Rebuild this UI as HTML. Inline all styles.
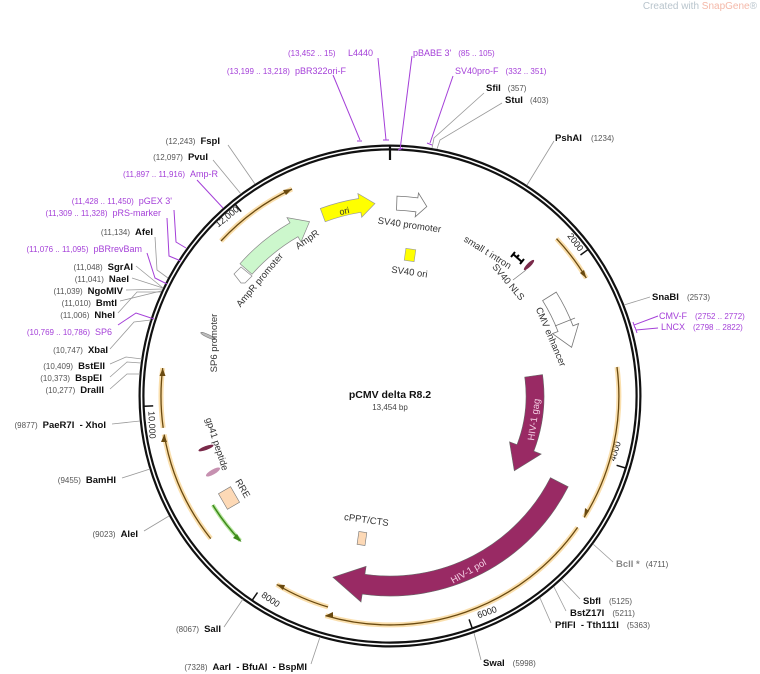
<!DOCTYPE html>
<html><head><meta charset="utf-8"><style>
html,body{margin:0;padding:0;background:#fff;}
svg{display:block;font-family:"Liberation Sans","DejaVu Sans",sans-serif;}
.n{font-size:9.5px;font-weight:bold;fill:#111;}
.c{font-size:8px;fill:#555;}
.p{font-size:9px;fill:#a43fd8;}
.pc{font-size:8px;fill:#a43fd8;}
.f{font-size:9.5px;fill:#333;}
.sl{stroke:#999;stroke-width:.8;fill:none;}
.pl{stroke:#a43fd8;stroke-width:1;fill:none;}
.or{fill:none;stroke:#f6c46a;stroke-width:5;stroke-opacity:.55;}
.ob{fill:none;stroke:#6a4a10;stroke-width:1.3;}
</style></head><body>
<svg width="760" height="674" viewBox="0 0 760 674">
<text x="757" y="9" text-anchor="end" style="font-size:10px;fill:#b8c4cc">Created with <tspan fill="#f4b8a8">SnapGene</tspan>®</text>

<!-- backbone -->
<circle cx="390" cy="396" r="248.5" fill="none" stroke="#111" stroke-width="6"/>
<circle cx="390" cy="396" r="248.5" fill="none" stroke="#fff" stroke-width="1.6"/>
<line x1="390" y1="145" x2="390" y2="160" stroke="#111" stroke-width="2.2"/>

<!-- ticks -->
<g stroke="#111" stroke-width="1.5">
<line x1="587.8" y1="249.7" x2="580.5" y2="255"/>
<line x1="625.2" y1="467.9" x2="616.6" y2="465.3"/>
<line x1="472.1" y1="627.9" x2="469.1" y2="619.4"/>
<line x1="252.4" y1="599.9" x2="257.5" y2="592.5"/>
<line x1="144.2" y1="406.3" x2="153.2" y2="405.9"/>
<line x1="235.5" y1="204.6" x2="241.2" y2="211.6"/>
</g>
<g class="f" style="font-size:9px;fill:#222">
<text transform="translate(573,244) rotate(53.5)" text-anchor="middle">2000</text>
<text transform="translate(618,452) rotate(-73)" text-anchor="middle">4000</text>
<text transform="translate(488,615) rotate(-19.5)" text-anchor="middle">6000</text>
<text transform="translate(269,602) rotate(34)" text-anchor="middle">8000</text>
<text transform="translate(149,425) rotate(87.6)" text-anchor="middle">10,000</text>
<text transform="translate(229,219) rotate(-39)" text-anchor="middle">12,000</text>
</g>

<!-- ORF arcs -->
<g>
<path class="or" d="M221,241 A229,229 0 0 1 292,189"/><path class="ob" d="M221,241 A229,229 0 0 1 292,189"/>
<path class="or" d="M556.5,238.7 A229,229 0 0 1 586.3,278.1"/><path class="ob" d="M556.5,238.7 A229,229 0 0 1 586.3,278.1"/>
<path class="or" d="M617,367 A229,229 0 0 1 584.2,517.4"/><path class="ob" d="M617,367 A229,229 0 0 1 584.2,517.4"/>
<path class="or" d="M577.6,527.4 A229,229 0 0 1 325.4,615.6"/><path class="ob" d="M577.6,527.4 A229,229 0 0 1 325.4,615.6"/>
<path class="or" d="M328,607 A220,220 0 0 1 276.7,584.5"/><path class="ob" d="M328,607 A220,220 0 0 1 276.7,584.5"/>
<path class="or" d="M210.7,538.6 A229,229 0 0 1 164.2,434.5"/><path class="ob" d="M210.7,538.6 A229,229 0 0 1 164.2,434.5"/>
<path class="or" d="M163.2,427.9 A229,229 0 0 1 162.7,368.1"/><path class="ob" d="M163.2,427.9 A229,229 0 0 1 162.7,368.1"/>
</g>
<g fill="#6a4a10">
<polygon points="292,189 283,190 286,195"/>
<polygon points="586.3,278.1 584,270 580,273"/>
<polygon points="584.2,517.4 585,508 589,511"/>
<polygon points="325.4,615.6 333,612 333,618"/>
<polygon points="276.7,584.5 285,585 283,590"/>
<polygon points="164.2,434.5 161,442 167,442"/>
<polygon points="162.7,368.1 159.5,376 165.5,376"/>
</g>
<!-- green arrow -->
<path d="M212.8,505 A208,208 0 0 0 240.4,540.6" fill="none" stroke="#b8e6a0" stroke-width="4"/>
<path d="M212.8,505 A208,208 0 0 0 240.4,540.6" fill="none" stroke="#3d8a1a" stroke-width="1.5"/>
<polygon points="241.5,542 233,538 237,534" fill="#3d8a1a"/>

<!-- features -->
<path d="M320.3,208.5 A200,200 0 0 1 358.7,198.5 L357.9,193.5 L374.9,203.6 L361.7,217.2 L360.9,212.3 A186,186 0 0 0 325.2,221.7 Z" fill="#ffff00" stroke="#999" stroke-width=".7"/>
<text transform="translate(345,214) rotate(-13)" text-anchor="middle" class="f" style="font-size:9px">ori</text>
<path d="M397,196.1 A200,200 0 0 1 417.8,197.9 L418.5,193 L426.8,206.5 L415.2,216.8 L415.9,211.8 A186,186 0 0 0 396.5,210.1 Z" fill="#fff" stroke="#777" stroke-width=".8"/>
<text transform="translate(409,228) rotate(8)" text-anchor="middle" class="f">SV40 promoter</text>
<rect x="405" y="249" width="10" height="12" fill="#ffff00" stroke="#999" stroke-width=".6" transform="rotate(8 410 255)"/>
<text transform="translate(409,275) rotate(8)" text-anchor="middle" class="f">SV40 ori</text>

<path d="M240,263.7 A200,200 0 0 1 290,222.8 L287,217.6 L309.5,221.7 L301,241.9 L298,236.7 A184,184 0 0 0 252,274.3 Z" fill="#ccf7cc" stroke="#888" stroke-width=".7"/>
<polygon points="234,274 241,267 252,276 245,283 241,283" fill="#fff" stroke="#888" stroke-width=".7"/>
<text transform="translate(309,242) rotate(-35)" text-anchor="middle" class="f">AmpR</text>
<text transform="translate(262,282) rotate(-50)" text-anchor="middle" class="f">AmpR promoter</text>

<path d="M556.2,292.1 A196,196 0 0 1 573,325.8 L578.6,323.6 L571.6,347.3 L552.4,333.6 L558,331.5 A180,180 0 0 0 542.6,300.6 Z" fill="#fff" stroke="#777" stroke-width=".8"/>
<line x1="575" y1="318" x2="555" y2="326" stroke="#777" stroke-width=".8"/>
<text transform="translate(548,338) rotate(67)" text-anchor="middle" class="f">CMV enhancer</text>

<path d="M542.5,374.6 A154,154 0 0 1 533.8,451.2 L541.2,454.1 L514.3,470.7 L509.5,441.9 L517,444.7 A136,136 0 0 0 524.7,377.1 Z" fill="#992a64" stroke="#666" stroke-width=".6"/>
<text transform="translate(537,420) rotate(-82)" text-anchor="middle" style="font-size:9.5px;fill:#f5d0e5">HIV-1 gag</text>
<path d="M568.2,486.8 A200,200 0 0 1 362.2,594.1 L361,602 L332.9,577.2 L366.1,566.3 L364.9,574.3 A180,180 0 0 0 550.4,477.7 Z" fill="#992a64" stroke="#666" stroke-width=".6"/>
<text transform="translate(470,574) rotate(-30)" text-anchor="middle" style="font-size:9.5px;fill:#f5d0e5">HIV-1 pol</text>

<!-- small t intron / NLS -->
<path d="M513,254 L522,262 M516,258 L519,255 M511,257 L515,252 M520,264 L524,259" stroke="#000" stroke-width="2"/>
<ellipse cx="529" cy="265" rx="7" ry="2" fill="#7a2a4a" transform="rotate(-45 529 265)"/>
<line x1="513" y1="280" x2="526" y2="270" stroke="#777" stroke-width=".7"/>
<text transform="translate(486,255) rotate(32)" text-anchor="middle" class="f">small t intron</text>
<text transform="translate(506,284) rotate(50)" text-anchor="middle" class="f">SV40 NLS</text>

<!-- left inner -->
<ellipse cx="208" cy="336" rx="8" ry="1.5" fill="#bbb" stroke="#777" stroke-width=".5" transform="rotate(25 208 336)"/>
<text transform="translate(217,343) rotate(-90)" text-anchor="middle" class="f">SP6 promoter</text>
<ellipse cx="206" cy="448" rx="8" ry="2" fill="#7a2a4a" transform="rotate(-20 206 448)"/>
<ellipse cx="213" cy="472" rx="8" ry="2.5" fill="#c690b0" transform="rotate(-30 213 472)"/>
<text transform="translate(214,445) rotate(72)" text-anchor="middle" class="f">gp41 peptide</text>
<rect x="222" y="489" width="14" height="18" fill="#fdd9b6" stroke="#777" stroke-width=".6" transform="rotate(-30 229 498)"/>
<text transform="translate(240,490) rotate(60)" text-anchor="middle" class="f">RRE</text>
<rect x="358" y="532" width="8" height="13" fill="#fdd9b6" stroke="#777" stroke-width=".6" transform="rotate(8 362 538)"/>
<text transform="translate(366,523) rotate(8)" text-anchor="middle" class="f">cPPT/CTS</text>

<!-- center -->
<text x="390" y="398" text-anchor="middle" style="font-size:10.5px;font-weight:bold;fill:#111">pCMV delta R8.2</text>
<text x="390" y="410" text-anchor="middle" style="font-size:8px;fill:#444">13,454 bp</text>

<!-- site lines -->
<g class="sl">
<path d="M228,145 L255,184"/>
<path d="M213,160 L241,194"/>
<path d="M155,237 L157,270 L168,278"/>
<path d="M136,266 L163,288"/>
<path d="M132,278 L163,288"/>
<path d="M126,290 L163,289"/>
<path d="M120,301 L161,291"/>
<path d="M118,313 L137,292 L161,292"/>
<path d="M110,349 L134,322 L151,320"/>
<path d="M110,364 L126,357 L142,359"/>
<path d="M110,377 L127,362 L141,363"/>
<path d="M110,389 L127,374 L140,374"/>
<path d="M112,424 L140,421"/>
<path d="M122,478 L150,469"/>
<path d="M144,531 L169,516"/>
<path d="M224,627 L243,599"/>
<path d="M311,664 L320,637"/>
<path d="M481,660 L474,633"/>
<path d="M551,623 L540,598"/>
<path d="M566,611 L554,587"/>
<path d="M580,599 L562,580"/>
<path d="M613,562 L593,544"/>
<path d="M650,297 L624,305"/>
<path d="M554,141 L527,185"/>
<path d="M502,103 L440,140 L437,149"/>
<path d="M484,93 L434,138 L432,148"/>
</g>
<g class="pl">
<path d="M378,58 L386,140"/><path d="M383,140 L389,140"/>
<path d="M412,56 L400,150"/><path d="M398,150 L403,148"/>
<path d="M453,76 L430,143"/><path d="M427,143 L432,145"/>
<path d="M333,75 L360,140"/><path d="M357,141 L362,141"/>
<path d="M197,180 L223,208"/>
<path d="M174,210 L176,242 L186,248"/>
<path d="M167,218 L169,256 L181,261"/>
<path d="M147,253 L155,278 L167,284"/>
<path d="M118,325 L136,313 L154,319"/>
<path d="M658,316 L634,325"/><path d="M633,322 L635,328"/>
<path d="M658,328 L636,330"/><path d="M635,327 L637,333"/>
</g>

<!-- right labels -->
<text x="348" y="56"><tspan class="pc" x="288">(13,452 .. 15)</tspan><tspan class="p" x="348">L4440</tspan></text>
<text x="413" y="56"><tspan class="p">pBABE 3'</tspan><tspan class="pc" dx="7">(85 .. 105)</tspan></text>
<text x="455" y="74"><tspan class="p">SV40pro-F</tspan><tspan class="pc" dx="7">(332 .. 351)</tspan></text>
<text x="486" y="91"><tspan class="n">SfiI</tspan><tspan class="c" dx="7">(357)</tspan></text>
<text x="505" y="103"><tspan class="n">StuI</tspan><tspan class="c" dx="7">(403)</tspan></text>
<text x="555" y="141"><tspan class="n">PshAI</tspan><tspan class="c" dx="9">(1234)</tspan></text>
<text x="652" y="300"><tspan class="n">SnaBI</tspan><tspan class="c" dx="8">(2573)</tspan></text>
<text x="659" y="319"><tspan class="p">CMV-F</tspan><tspan class="pc" dx="8">(2752 .. 2772)</tspan></text>
<text x="661" y="330"><tspan class="p">LNCX</tspan><tspan class="pc" dx="8">(2798 .. 2822)</tspan></text>
<text x="616" y="567"><tspan style="font-size:9.5px;font-weight:bold;fill:#888">BclI *</tspan><tspan class="c" dx="6">(4711)</tspan></text>
<text x="583" y="604"><tspan class="n">SbfI</tspan><tspan class="c" dx="8">(5125)</tspan></text>
<text x="570" y="616"><tspan class="n">BstZ17I</tspan><tspan class="c" dx="8">(5211)</tspan></text>
<text x="555" y="628"><tspan class="n">PflFI&#160; - Tth111I</tspan><tspan class="c" dx="8">(5363)</tspan></text>
<text x="483" y="666"><tspan class="n">SwaI</tspan><tspan class="c" dx="8">(5998)</tspan></text>

<!-- left labels -->
<g text-anchor="end">
<text x="346" y="74"><tspan class="pc">(13,199 .. 13,218)</tspan><tspan class="p" dx="5">pBR322ori-F</tspan></text>
<text x="220" y="144"><tspan class="c">(12,243)</tspan><tspan class="n" dx="5">FspI</tspan></text>
<text x="208" y="160"><tspan class="c">(12,097)</tspan><tspan class="n" dx="5">PvuI</tspan></text>
<text x="218" y="177"><tspan class="pc">(11,897 .. 11,916)</tspan><tspan class="p" dx="5">Amp-R</tspan></text>
<text x="172" y="204"><tspan class="pc">(11,428 .. 11,450)</tspan><tspan class="p" dx="5">pGEX 3'</tspan></text>
<text x="161" y="216"><tspan class="pc">(11,309 .. 11,328)</tspan><tspan class="p" dx="5">pRS-marker</tspan></text>
<text x="153" y="235"><tspan class="c">(11,134)</tspan><tspan class="n" dx="5">AfeI</tspan></text>
<text x="142" y="252"><tspan class="pc">(11,076 .. 11,095)</tspan><tspan class="p" dx="5">pBRrevBam</tspan></text>
<text x="133" y="270"><tspan class="c">(11,048)</tspan><tspan class="n" dx="5">SgrAI</tspan></text>
<text x="129" y="282"><tspan class="c">(11,041)</tspan><tspan class="n" dx="5">NaeI</tspan></text>
<text x="123" y="294"><tspan class="c">(11,039)</tspan><tspan class="n" dx="5">NgoMIV</tspan></text>
<text x="117" y="306"><tspan class="c">(11,010)</tspan><tspan class="n" dx="5">BmtI</tspan></text>
<text x="115" y="318"><tspan class="c">(11,006)</tspan><tspan class="n" dx="5">NheI</tspan></text>
<text x="112" y="335"><tspan class="pc">(10,769 .. 10,786)</tspan><tspan class="p" dx="5">SP6</tspan></text>
<text x="108" y="353"><tspan class="c">(10,747)</tspan><tspan class="n" dx="5">XbaI</tspan></text>
<text x="105" y="369"><tspan class="c">(10,409)</tspan><tspan class="n" dx="5">BstEII</tspan></text>
<text x="102" y="381"><tspan class="c">(10,373)</tspan><tspan class="n" dx="5">BspEI</tspan></text>
<text x="104" y="393"><tspan class="c">(10,277)</tspan><tspan class="n" dx="5">DraIII</tspan></text>
<text x="106" y="428"><tspan class="c">(9877)</tspan><tspan class="n" dx="5">PaeR7I&#160; - XhoI</tspan></text>
<text x="116" y="483"><tspan class="c">(9455)</tspan><tspan class="n" dx="5">BamHI</tspan></text>
<text x="138" y="537"><tspan class="c">(9023)</tspan><tspan class="n" dx="5">AleI</tspan></text>
<text x="221" y="632"><tspan class="c">(8067)</tspan><tspan class="n" dx="5">SalI</tspan></text>
<text x="307" y="670"><tspan class="c">(7328)</tspan><tspan class="n" dx="5">AarI&#160; - BfuAI&#160; - BspMI</tspan></text>
</g>
</svg>
</body></html>
